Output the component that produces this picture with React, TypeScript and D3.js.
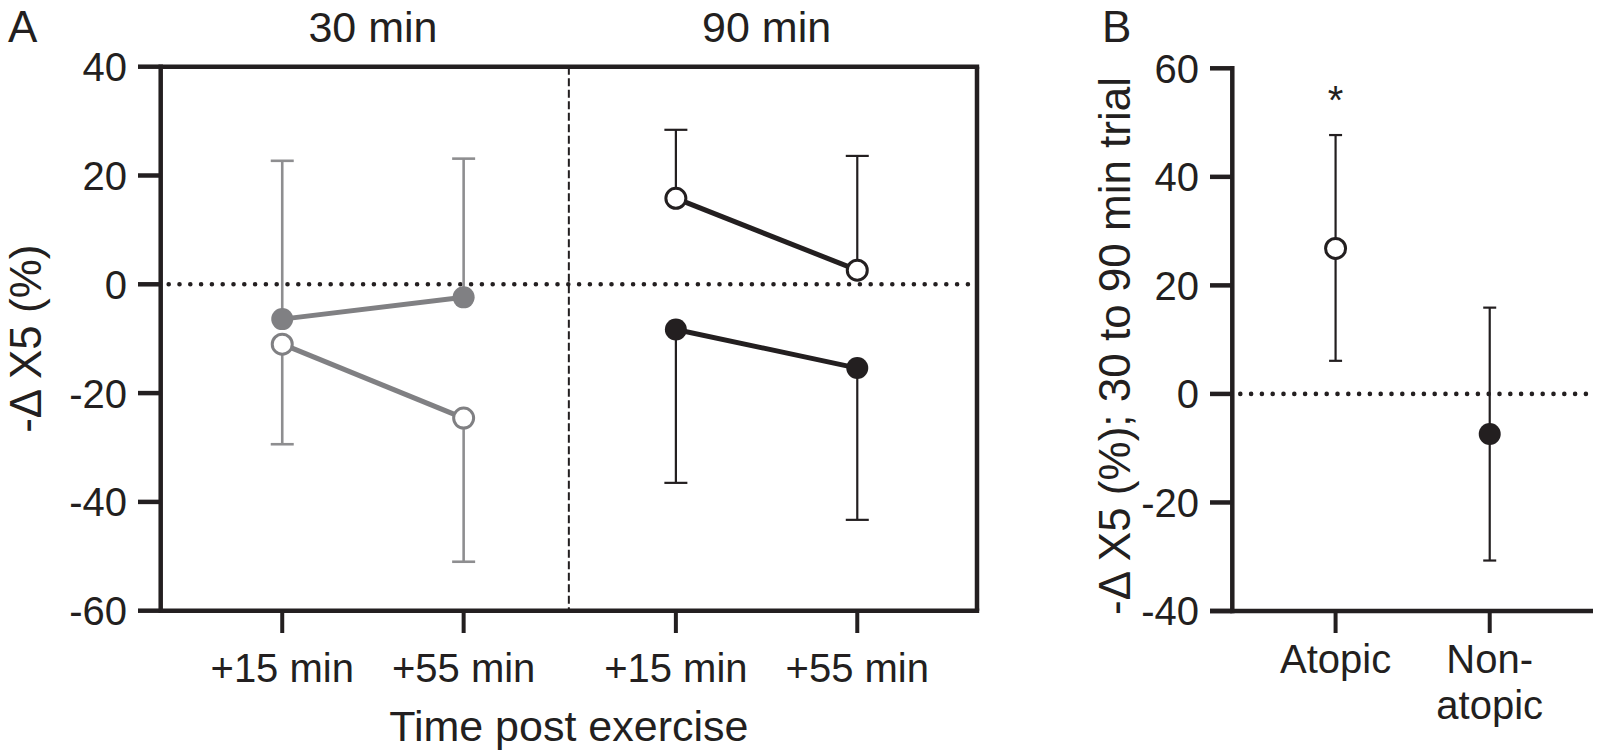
import React from "react";
import * as d3 from "d3";

// Panel A: -ΔX5 (%) after the 30 min and 90 min exercise trials
const trials = ["30 min", "90 min"];
const timepoints = ["+15 min", "+55 min"];

// atopic = open circles, non-atopic = filled circles
const atopic30 = [-11.0, -24.6];
const atopic30Lower = [-29.4, -51.0];
const nonAtopic30 = [-6.4, -2.4];
const nonAtopic30Upper = [22.7, 23.1];

const atopic90 = [15.8, 2.6];
const atopic90Upper = [28.4, 23.6];
const nonAtopic90 = [-8.3, -15.4];
const nonAtopic90Lower = [-36.5, -43.3];

const yTicksA = [40, 20, 0, -20, -40, -60];

// Panel B: change from 30 to 90 min trial
const groupsB = ["Atopic", "Non-atopic"];
const meansB = [26.8, -7.4];
const upperB = [47.7, 15.9];
const lowerB = [6.1, -30.7];
const yTicksB = [60, 40, 20, 0, -20, -40];

const BLACK = "#231f20";
const GREY = "#808083";
const GREY_BAR = "#8e8e90";
const FONT = "'Liberation Sans', Arial, Helvetica, sans-serif";

export default function App() {
  // panel A scales
  const xA = d3.scaleLinear().domain([0, 4.5]).range([160.7, 977]);
  const yA = d3.scaleLinear().domain([-60, 40]).range([610.7, 66.7]);
  const slotStart = [0.67, 2.84]; // where each trial's first timepoint sits
  const divider = 2.25;
  const px = (trial: number, t: number) => xA(slotStart[trial] + t);

  // panel B scales
  const xB = d3.scalePoint().domain(groupsB).range([1232.3, 1593]).padding(0.67);
  const yB = d3.scaleLinear().domain([-40, 60]).range([611, 68.3]);

  const line = d3.line<[number, number]>();

  const errBar = (x: number, y0: number, y1: number, half: number, color: string, w: number, key: string) => (
    <g key={key} stroke={color} strokeWidth={w}>
      <line x1={x} x2={x} y1={y0} y2={y1} />
      <line x1={x - half} x2={x + half} y1={y1} y2={y1} />
    </g>
  );

  const series = [
    { vals: nonAtopic30, bars: nonAtopic30Upper, trial: 0, open: false, color: GREY, barColor: GREY_BAR },
    { vals: atopic30, bars: atopic30Lower, trial: 0, open: true, color: GREY, barColor: GREY_BAR },
    { vals: atopic90, bars: atopic90Upper, trial: 1, open: true, color: BLACK, barColor: BLACK },
    { vals: nonAtopic90, bars: nonAtopic90Lower, trial: 1, open: false, color: BLACK, barColor: BLACK },
  ];

  return (
    <svg
      width={1600}
      height={752}
      style={{ position: "absolute", left: 0, top: 0, background: "#fff" }}
      fontFamily={FONT}
      fill={BLACK}
    >
      {/* ---------- Panel A ---------- */}
      <text x={8} y={42} fontSize={44}>A</text>
      {trials.map((t, i) => (
        <text key={t} x={px(i, 0.5)} y={42} fontSize={43} textAnchor="middle">{t}</text>
      ))}

      {/* zero reference line */}
      <line x1={xA(0) + 8} x2={xA(4.5) - 4} y1={yA(0)} y2={yA(0)}
        stroke={BLACK} strokeWidth={4.6} strokeLinecap="round" strokeDasharray="0 10.8" />
      {/* divider between trials */}
      <line x1={xA(divider)} x2={xA(divider)} y1={yA(40)} y2={yA(-60) + 2}
        stroke={BLACK} strokeWidth={2} strokeDasharray="8 3.5" />

      {/* error bars */}
      {series.map((s, si) =>
        s.vals.map((v, j) =>
          errBar(px(s.trial, j), yA(v), yA(s.bars[j]), 11.5, s.barColor, s.trial === 0 ? 2.6 : 2.2, `eb${si}-${j}`)
        )
      )}
      {/* connecting lines */}
      {series.map((s, si) => (
        <path key={`ln${si}`} d={line(s.vals.map((v, j) => [px(s.trial, j), yA(v)]))!}
          fill="none" stroke={s.color} strokeWidth={5} />
      ))}
      {/* markers */}
      {series.map((s, si) =>
        s.vals.map((v, j) => (
          <circle key={`pt${si}-${j}`} cx={px(s.trial, j)} cy={yA(v)} r={s.open ? 10 : 11}
            fill={s.open ? "#fff" : s.color} stroke={s.open ? s.color : "none"} strokeWidth={3} />
        ))
      )}

      {/* axes / frame */}
      <g stroke={BLACK} strokeWidth={4.5}>
        <line x1={xA(0)} x2={xA(0)} y1={yA(40) - 2.2} y2={yA(-60) + 2.2} />
        <line x1={xA(0)} x2={xA(4.5) + 2.2} y1={yA(40)} y2={yA(40)} />
        <line x1={xA(0)} x2={xA(4.5) + 2.2} y1={yA(-60)} y2={yA(-60)} />
        <line x1={xA(4.5)} x2={xA(4.5)} y1={yA(40)} y2={yA(-60)} />
        {yTicksA.map((t) => (
          <line key={t} x1={138} x2={xA(0)} y1={yA(t)} y2={yA(t)} />
        ))}
        {trials.map((_, i) =>
          timepoints.map((_, j) => (
            <line key={`xt${i}${j}`} x1={px(i, j)} x2={px(i, j)} y1={yA(-60)} y2={633} strokeWidth={4} />
          ))
        )}
      </g>
      {yTicksA.map((t) => (
        <text key={t} x={127} y={yA(t)} dy="0.36em" fontSize={40} textAnchor="end">{t}</text>
      ))}
      {trials.map((_, i) =>
        timepoints.map((tp, j) => (
          <text key={`xl${i}${j}`} x={px(i, j)} y={682} fontSize={40} textAnchor="middle">{tp}</text>
        ))
      )}
      <text x={xA(divider)} y={741} fontSize={43} textAnchor="middle">Time post exercise</text>
      <text transform="translate(41,338.7) rotate(-90)" fontSize={44} textAnchor="middle">-Δ X5 (%)</text>

      {/* ---------- Panel B ---------- */}
      <text x={1102} y={42} fontSize={44}>B</text>
      <line x1={1232.3 + 8} x2={1593} y1={yB(0)} y2={yB(0)}
        stroke={BLACK} strokeWidth={4.6} strokeLinecap="round" strokeDasharray="0 10.8" />
      {groupsB.map((g, i) => (
        <g key={g} stroke={BLACK} strokeWidth={2.2}>
          <line x1={xB(g)!} x2={xB(g)!} y1={yB(lowerB[i])} y2={yB(upperB[i])} />
          <line x1={xB(g)! - 6.5} x2={xB(g)! + 6.5} y1={yB(upperB[i])} y2={yB(upperB[i])} />
          <line x1={xB(g)! - 6.5} x2={xB(g)! + 6.5} y1={yB(lowerB[i])} y2={yB(lowerB[i])} />
        </g>
      ))}
      {groupsB.map((g, i) => (
        <circle key={g} cx={xB(g)!} cy={yB(meansB[i])} r={i === 0 ? 10 : 11}
          fill={i === 0 ? "#fff" : BLACK} stroke={i === 0 ? BLACK : "none"} strokeWidth={3} />
      ))}
      <text x={xB("Atopic")!} y={114} fontSize={40} textAnchor="middle">*</text>

      <g stroke={BLACK} strokeWidth={4.5}>
        <line x1={1232.3} x2={1232.3} y1={yB(60) - 2.2} y2={yB(-40) + 2.2} />
        <line x1={1210} x2={1593} y1={yB(-40)} y2={yB(-40)} />
        {yTicksB.map((t) => (
          <line key={t} x1={1210} x2={1232.3} y1={yB(t)} y2={yB(t)} />
        ))}
        {groupsB.map((g) => (
          <line key={g} x1={xB(g)!} x2={xB(g)!} y1={yB(-40)} y2={633} strokeWidth={4} />
        ))}
      </g>
      {yTicksB.map((t) => (
        <text key={t} x={1199} y={yB(t)} dy="0.36em" fontSize={40} textAnchor="end">{t}</text>
      ))}
      <text x={xB("Atopic")!} y={673} fontSize={40} textAnchor="middle">Atopic</text>
      <text x={xB("Non-atopic")!} y={673} fontSize={40} textAnchor="middle">Non-</text>
      <text x={xB("Non-atopic")!} y={719} fontSize={40} textAnchor="middle">atopic</text>
      <text transform="translate(1130,346) rotate(-90)" fontSize={44} textAnchor="middle">
        -Δ X5 (%); 30 to 90 min trial
      </text>
    </svg>
  );
}
